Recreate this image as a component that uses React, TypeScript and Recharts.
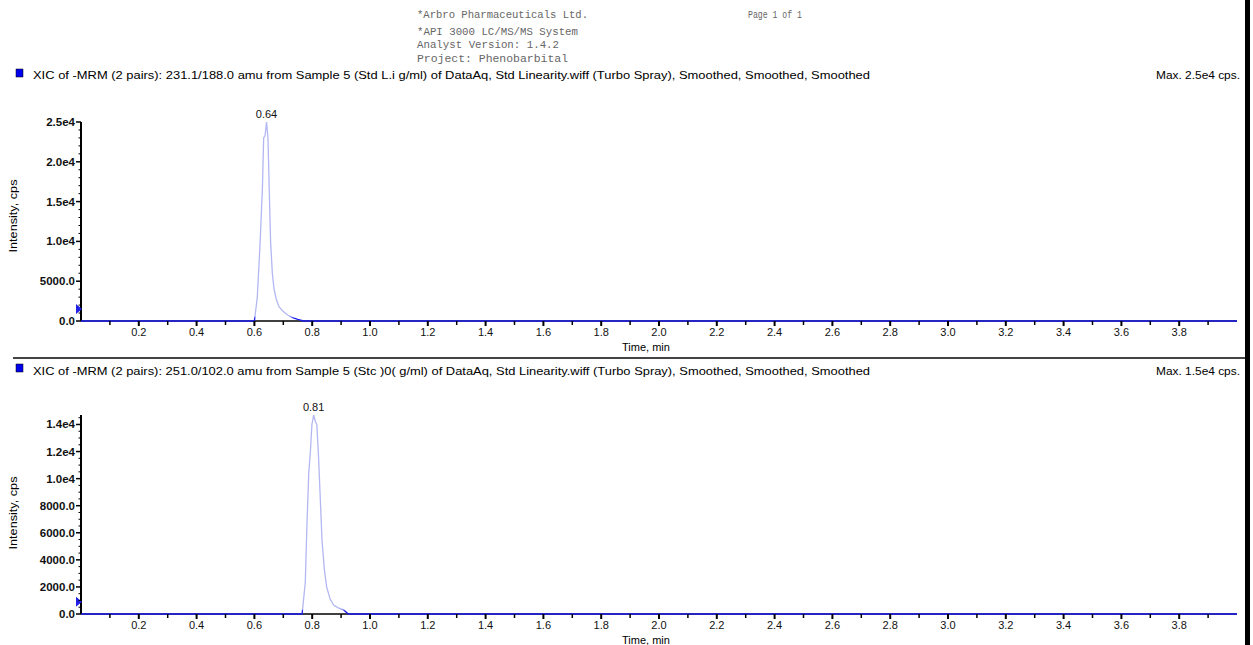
import { LineChart, Line, XAxis, YAxis, ReferenceDot } from 'recharts'

const headerLines = [
  '*Arbro Pharmaceuticals Ltd.',
  '*API 3000 LC/MS/MS System',
  'Analyst Version: 1.4.2',
  'Project: Phenobarbital',
]
const pageLabel = 'Page 1 of 1'
const topTitle =
  'XIC of -MRM (2 pairs): 231.1/188.0 amu from Sample 5 (Std L.i  g/ml) of DataAq, Std Linearity.wiff (Turbo Spray), Smoothed, Smoothed, Smoothed'
const bottomTitle =
  'XIC of -MRM (2 pairs): 251.0/102.0 amu from Sample 5 (Stc  )0(  g/ml) of DataAq, Std Linearity.wiff (Turbo Spray), Smoothed, Smoothed, Smoothed'
const topMaxLabel = 'Max. 2.5e4 cps.'
const bottomMaxLabel = 'Max. 1.5e4 cps.'

// time axis (min)
const xMajorTicks = [0.2, 0.4, 0.6, 0.8, 1.0, 1.2, 1.4, 1.6, 1.8, 2.0, 2.2, 2.4, 2.6, 2.8, 3.0, 3.2, 3.4, 3.6, 3.8]
const xTickLabels = ['0.2', '0.4', '0.6', '0.8', '1.0', '1.2', '1.4', '1.6', '1.8', '2.0', '2.2', '2.4', '2.6', '2.8', '3.0', '3.2', '3.4', '3.6', '3.8']
const xMinorTicks = [0.1, 0.3, 0.5, 0.7, 0.9, 1.1, 1.3, 1.5, 1.7, 1.9, 2.1, 2.3, 2.5, 2.7, 2.9, 3.1, 3.3, 3.5, 3.7, 3.9]

// top trace: 231.1/188.0
const topTime = [0, 0.5, 0.6, 0.61, 0.62, 0.628, 0.632, 0.637, 0.642, 0.647, 0.651, 0.656, 0.662, 0.668, 0.676, 0.685, 0.7, 0.715, 0.735, 0.75, 0.77, 1.0, 2.0, 3.0, 4.0]
const topIntensity = [0, 0, 0, 3000, 10000, 17000, 23000, 23300, 25000, 23000, 17000, 10000, 6000, 4000, 2700, 1800, 1200, 750, 380, 200, 0, 0, 0, 0, 0]
const topYTicks = [0, 5000, 10000, 15000, 20000, 25000]
const topYLabels = ['0.0', '5000.0', '1.0e4', '1.5e4', '2.0e4', '2.5e4']
const topYMinorStep = 1000
const topYMax = 25000
const topPeak = { t: 0.642, v: 25000, label: '0.64' }
const topMarker = 1500

// bottom trace: 251.0/102.0
const bottomTime = [0, 0.7, 0.765, 0.776, 0.782, 0.788, 0.794, 0.799, 0.805, 0.811, 0.816, 0.822, 0.828, 0.834, 0.842, 0.85, 0.862, 0.874, 0.89, 0.909, 0.925, 1.0, 2.0, 3.0, 4.0]
const bottomIntensity = [0, 0, 0, 2300, 6700, 10400, 12100, 14000, 14700, 14200, 14000, 11600, 8500, 5450, 3300, 2000, 1100, 660, 450, 300, 0, 0, 0, 0, 0]
const bottomYTicks = [0, 2000, 4000, 6000, 8000, 10000, 12000, 14000]
const bottomYLabels = ['0.0', '2000.0', '4000.0', '6000.0', '8000.0', '1.0e4', '1.2e4', '1.4e4']
const bottomYMinorStep = 500
const bottomYMax = 14700
const bottomPeak = { t: 0.805, v: 14700, label: '0.81' }
const bottomMarker = 900

const FONT = '"Liberation Sans", Arial, sans-serif'

function XTick(props: any) {
  const { x, y, payload } = props
  const idx = xMajorTicks.findIndex((t) => Math.abs(t - payload.value) < 1e-6)
  const major = idx >= 0
  return (
    <g>
      <line x1={x} x2={x} y1={y} y2={y + (major ? 5 : 4)} stroke="#000" strokeWidth={major ? 2 : 1.5} />
      {major && (
        <text x={x} y={y + 15} textAnchor="middle" fontSize={11} fill="#111" fontFamily={FONT}>
          {xTickLabels[idx]}
        </text>
      )}
    </g>
  )
}

function makeYTick(majors: number[], labels: string[]) {
  return function YTick(props: any) {
    const { x, y, payload } = props
    const idx = majors.indexOf(payload.value)
    const major = idx >= 0
    return (
      <g>
        <line x1={x - (major ? 5 : 2.5)} x2={x} y1={y} y2={y} stroke="#000" strokeWidth={major ? 1.5 : 1} />
        {major && (
          <text x={x - 6} y={y + 4} textAnchor="end" fontSize={11.5} fontWeight="bold" fill="#111" fontFamily={FONT}>
            {labels[idx]}
          </text>
        )}
      </g>
    )
  }
}

function Marker(props: any) {
  const { cx, cy } = props
  return <polygon points={`${cx - 5},${cy - 5} ${cx + 1},${cy} ${cx - 5},${cy + 5}`} fill="#1f1fe6" />
}

type PanelProps = {
  time: number[]
  intensity: number[]
  top: number
  marginTop: number
  yMax: number
  yTicks: number[]
  yLabels: string[]
  yMinorStep: number
  peak: { t: number; v: number; label: string }
  marker: number
  gradId: string
}

function Panel({ time, intensity, top, marginTop, yMax, yTicks, yLabels, yMinorStep, peak, marker, gradId }: PanelProps) {
  const data = time.map((t, i) => ({ t, v: intensity[i] }))
  const allYTicks: number[] = []
  for (let v = 0; v <= yMax; v += yMinorStep) allYTicks.push(v)
  const height = marginTop + 199 + 29
  const lineProps: any = { zIndex: 900 }
  return (
    <div style={{ position: 'absolute', left: 0, top }}>
      <LineChart width={1253} height={height} data={data} margin={{ top: marginTop, right: 16, bottom: 0, left: 0 }}>
        <defs>
          <linearGradient id={gradId} x1="0" y1="0" x2="0" y2="1">
            <stop offset="0" stopColor="#b3b7f2" />
            <stop offset="0.975" stopColor="#b3b7f2" />
            <stop offset="0.985" stopColor="#1c1cf0" />
            <stop offset="1" stopColor="#1c1cf0" />
          </linearGradient>
        </defs>
        <XAxis
          type="number"
          dataKey="t"
          domain={[0, 4.0]}
          ticks={[...xMinorTicks, ...xMajorTicks].sort((a, b) => a - b)}
          interval={0}
          height={29}
          tickSize={0}
          tickMargin={0}
          tickLine={false}
          axisLine={{ stroke: '#000', strokeWidth: 1.5 }}
          tick={<XTick />}
        />
        <YAxis
          type="number"
          domain={[0, yMax]}
          ticks={allYTicks}
          interval={0}
          width={81}
          tickSize={0}
          tickMargin={0}
          tickLine={false}
          axisLine={{ stroke: '#000', strokeWidth: 2 }}
          tick={makeYTick(yTicks, yLabels)}
        />
        <Line
          {...lineProps}
          type="linear"
          dataKey="v"
          stroke={`url(#${gradId})`}
          strokeWidth={1.3}
          dot={false}
          activeDot={false}
          isAnimationActive={false}
        />
        <ReferenceDot x={0} y={marker} r={5} shape={<Marker />} ifOverflow="visible" />
        <ReferenceDot
          x={peak.t}
          y={peak.v}
          r={0}
          fill="none"
          stroke="none"
          ifOverflow="visible"
          label={{ value: peak.label, position: 'top', offset: 4, fontSize: 11, fill: '#111', fontFamily: FONT }}
        />
      </LineChart>
    </div>
  )
}

export default function App() {
  return (
    <div style={{ position: 'absolute', left: 0, top: 0, width: 1253, height: 645, background: '#fff', overflow: 'hidden', fontFamily: FONT }}>
      <Panel
        time={topTime}
        intensity={topIntensity}
        top={100}
        marginTop={22}
        yMax={topYMax}
        yTicks={topYTicks}
        yLabels={topYLabels}
        yMinorStep={topYMinorStep}
        peak={topPeak}
        marker={topMarker}
        gradId="topGrad"
      />
      <Panel
        time={bottomTime}
        intensity={bottomIntensity}
        top={395}
        marginTop={20}
        yMax={bottomYMax}
        yTicks={bottomYTicks}
        yLabels={bottomYLabels}
        yMinorStep={bottomYMinorStep}
        peak={bottomPeak}
        marker={bottomMarker}
        gradId="bottomGrad"
      />
      <svg width={1253} height={645} style={{ position: 'absolute', left: 0, top: 0, pointerEvents: 'none' }}>
        {headerLines.map((line, i) => (
          <text
            key={line}
            x={417}
            y={[18, 35, 48, 62][i]}
            fontSize={10}
            fontFamily='"Liberation Mono", monospace'
            fill="#666"
            textLength={[171, 161, 142, 151][i]}
            lengthAdjust="spacingAndGlyphs"
          >
            {line}
          </text>
        ))}
        <text x={748} y={18} fontSize={10} fontFamily='"Liberation Mono", monospace' fill="#666" textLength={54} lengthAdjust="spacingAndGlyphs">
          {pageLabel}
        </text>

        <rect x={16} y={69} width={7} height={8} fill="#0000ee" stroke="#000" strokeWidth={0.5} />
        <text x={33} y={79} fontSize={11.5} fill="#000" textLength={837} lengthAdjust="spacingAndGlyphs">
          {topTitle}
        </text>
        <text x={1156} y={79} fontSize={11} fill="#000" textLength={84} lengthAdjust="spacingAndGlyphs">
          {topMaxLabel}
        </text>

        <line x1={13} x2={1245} y1={358} y2={358} stroke="#444" strokeWidth={2} />

        <rect x={16} y={364} width={7} height={8} fill="#0000ee" stroke="#000" strokeWidth={0.5} />
        <text x={33} y={375} fontSize={11.5} fill="#000" textLength={837} lengthAdjust="spacingAndGlyphs">
          {bottomTitle}
        </text>
        <text x={1156} y={375} fontSize={11} fill="#000" textLength={84} lengthAdjust="spacingAndGlyphs">
          {bottomMaxLabel}
        </text>

        <text x={0} y={0} fontSize={11} fill="#000" textAnchor="middle" transform="translate(17,216) rotate(-90)" textLength={73} lengthAdjust="spacingAndGlyphs">
          Intensity, cps
        </text>
        <text x={0} y={0} fontSize={11} fill="#000" textAnchor="middle" transform="translate(17,513) rotate(-90)" textLength={73} lengthAdjust="spacingAndGlyphs">
          Intensity, cps
        </text>
        <text x={646} y={351} fontSize={11} fill="#000" textAnchor="middle">
          Time, min
        </text>
        <text x={646} y={644} fontSize={11} fill="#000" textAnchor="middle">
          Time, min
        </text>

        <rect x={1245} y={0} width={5} height={645} fill="#000" />
      </svg>
    </div>
  )
}
